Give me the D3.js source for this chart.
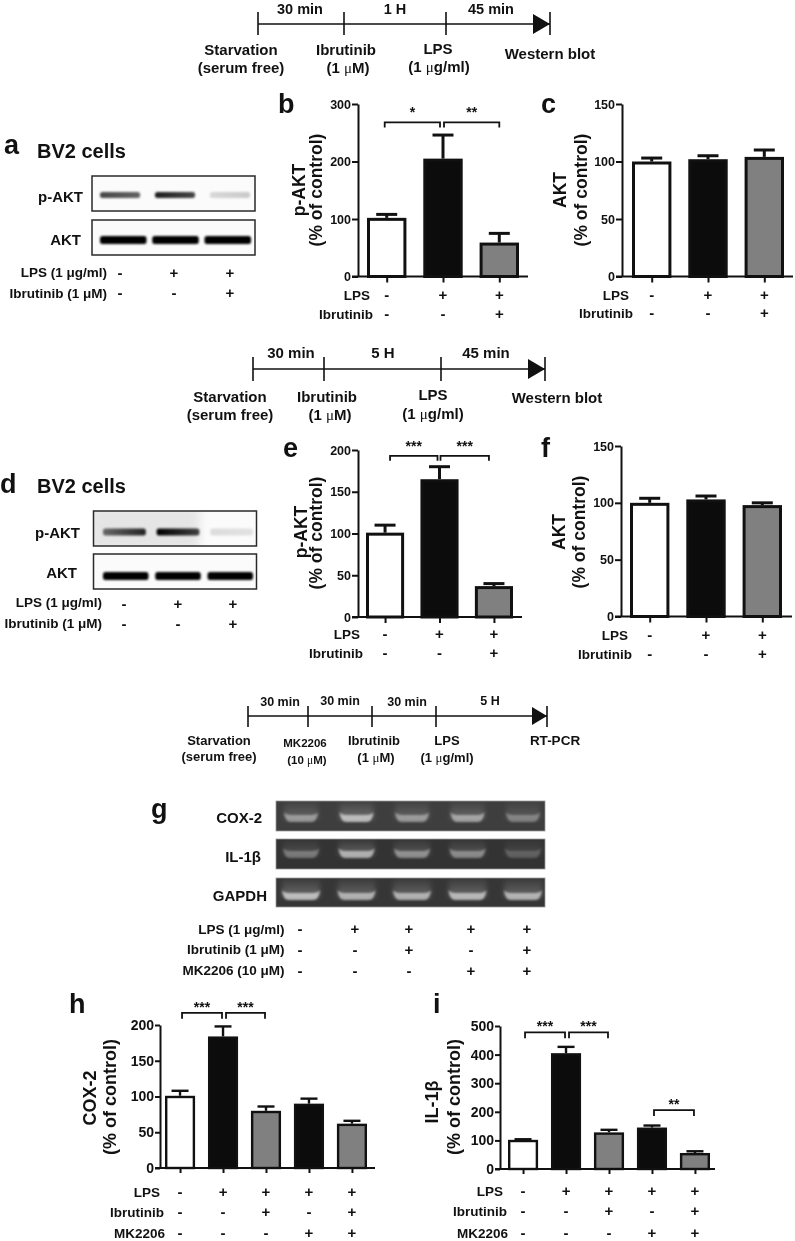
<!DOCTYPE html>
<html>
<head>
<meta charset="utf-8">
<script src="https://cdn.jsdelivr.net/npm/d3@7"></script>
<style>
html,body{margin:0;padding:0;background:#fff}
svg{display:block;filter:blur(0.35px)}
text{font-family:"Liberation Sans",Arial,sans-serif;font-weight:700;fill:#111}
</style>
</head>
<body>
<svg id="fig" width="795" height="1241"></svg>
<script>
// ---- data ----
const cats3 = ["Control","LPS","LPS+Ibrutinib"];
const cats5 = ["Control","LPS","LPS+Ibrutinib","LPS+MK2206","LPS+Ibrutinib+MK2206"];
const fills3 = ["#ffffff","#0c0c0c","#808080"];
const fills5 = ["#ffffff","#0c0c0c","#808080","#0c0c0c","#808080"];

const bValues = [102,205,59];   const bErrors = [6,41,16];
const cValues = [100,102,104];  const cErrors = [3,3,6];
const eValues = [101,165,37];   const eErrors = [9,15,3];
const fValues = [100,103,98];   const fErrors = [4,3,2];
const hValues = [101,184,80,90,62];     const hErrors = [7,14,6,7,4];
const iValues = [102,405,128,145,56];   const iErrors = [2,22,9,7,6];

const bTicks = [0,100,200,300];
const cTicks = [0,50,100,150];
const eTicks = [0,50,100,150,200];
const fTicks = [0,50,100,150];
const hTicks = [0,50,100,150,200];
const iTicks = [0,100,200,300,400,500];

const lps3 = ["-","+","+"];
const ibr3 = ["-","-","+"];
const lps5 = ["-","+","+","+","+"];
const ibr5 = ["-","-","+","-","+"];
const mk5  = ["-","-","-","+","+"];

// western blot band strengths (left end, right end of each lane)
const aPhospho = [[.72,.6],[.88,.72],[.14,.2]];
const aTotal   = [[1,1],[1,1],[1,1]];
const dPhospho = [[.55,.85],[1,.72],[.12,.1]];
const dTotal   = [[1,1],[1,1],[1,1]];
// gel band brightness per lane
const cox2Gel  = [.6,.95,.6,.7,.38];
const il1bGel  = [.35,.85,.55,.5,.14];
const gapdhGel = [.98,.85,.85,.92,.88];

// ---- helpers ----
const svg = d3.select("#fig");
const INK = "#111";

function txt(g,x,y,s,size,anchor,weight){
  const t = g.append("text").attr("x",x).attr("y",y).attr("font-size",size).attr("text-anchor",anchor||"start");
  const parts = String(s).split(/(μ)/);
  if(parts.length>1 && weight==="sym"){
    parts.forEach(p=>{ const ts=t.append("tspan").text(p); if(p==="μ") ts.style("font-weight",400).style("font-family","'Liberation Serif',serif"); });
  } else t.text(s);
  return t;
}
function rowCentered(g,x,cy,s,size,anchor){ return txt(g,x,cy+0.36*size,s,size,anchor); }
function sign(g,x,cy,s){ return txt(g,x,cy+5,s,15,"middle"); }
function letter(x,y,s){ txt(svg,x,y,s,27); }

function timeline(o){
  const g = svg.append("g");
  const ts = o.ticks;
  g.append("line").attr("x1",ts[0]).attr("x2",ts[ts.length-1]).attr("y1",o.y).attr("y2",o.y).attr("stroke",INK).attr("stroke-width",1.6);
  g.selectAll("line.t").data(ts).join("line").attr("class","t")
    .attr("x1",d=>d).attr("x2",d=>d).attr("y1",o.y-o.h0).attr("y2",o.y+o.h1).attr("stroke",INK).attr("stroke-width",1.6);
  const e = ts[ts.length-1];
  const p = d3.path(); p.moveTo(e,o.y); p.lineTo(e-o.aw,o.y-o.ah); p.lineTo(e-o.aw,o.y+o.ah); p.closePath();
  g.append("path").attr("d",p.toString()).attr("fill",INK);
  o.labels.forEach(l=>{ txt(g,l[0],l[1],l[2],l[3]||o.size,"middle","sym"); });
}

function barPanel(o){
  const g = svg.append("g");
  const y = d3.scaleLinear().domain([0,d3.max(o.ticks)]).range([o.y0,o.y1]);
  const x = d3.scaleBand().domain(o.cats).range([o.xL,o.xR]).paddingInner(0.3).paddingOuter(0);
  const sw = o.sw;
  g.selectAll("rect").data(o.cats).join("rect")
    .attr("x",d=>x(d)+sw/2).attr("width",x.bandwidth()-sw)
    .attr("y",(d,i)=>y(o.values[i])+sw/2).attr("height",(d,i)=>o.y0-y(o.values[i])-sw/2)
    .attr("fill",(d,i)=>o.fills[i]).attr("stroke",INK).attr("stroke-width",sw);
  const cx = d=>x(d)+x.bandwidth()/2;
  g.selectAll("line.err").data(o.cats).join("line").attr("class","err")
    .attr("x1",cx).attr("x2",cx).attr("y1",(d,i)=>y(o.values[i])).attr("y2",(d,i)=>y(o.values[i]+o.errors[i]))
    .attr("stroke",INK).attr("stroke-width",o.ew);
  g.selectAll("line.cap").data(o.cats).join("line").attr("class","cap")
    .attr("x1",d=>cx(d)-o.cap/2).attr("x2",d=>cx(d)+o.cap/2)
    .attr("y1",(d,i)=>y(o.values[i]+o.errors[i])).attr("y2",(d,i)=>y(o.values[i]+o.errors[i]))
    .attr("stroke",INK).attr("stroke-width",o.ew);

  const ax = g.append("g").attr("transform",`translate(${o.ax},0)`)
    .call(d3.axisLeft(y).tickValues(o.ticks).tickSize(o.tick).tickSizeOuter(0).tickPadding(1));
  ax.select(".domain").attr("stroke",INK).attr("stroke-width",2);
  ax.selectAll(".tick line").attr("stroke",INK).attr("stroke-width",2);
  ax.selectAll(".tick text").attr("font-size",o.tickFont).attr("font-family",null).style("fill",INK);

  const bx = g.append("g").attr("transform",`translate(0,${o.y0})`)
    .call(d3.axisBottom(d3.scalePoint().domain(o.cats).range([cx(o.cats[0]),cx(o.cats[o.cats.length-1])])).tickSize(o.tick).tickFormat(""));
  bx.select(".domain").remove();
  bx.selectAll(".tick line").attr("stroke",INK).attr("stroke-width",2);
  bx.append("line").attr("x1",o.ax-o.tick).attr("x2",o.xEnd).attr("stroke",INK).attr("stroke-width",2);

  o.rows.forEach(r=>{
    rowCentered(g,r.right,r.y,r.name,13.5,"end");
    r.signs.forEach((s,i)=>sign(g,cx(o.cats[i]),r.y,s));
  });
  (o.brackets||[]).forEach(b=>{
    const x0 = cx(o.cats[b[0]])+b[3], x1 = cx(o.cats[b[1]])+b[4];
    const top = y(b[2]);
    g.append("path").attr("d",`M${x0},${top+o.bd}V${top}H${x1}V${top+o.bd}`).attr("fill","none").attr("stroke",INK).attr("stroke-width",1.8);
    txt(g,(x0+x1)/2,top-o.starUp+6,b[5],o.starSize||14,"middle");
  });
  const rot = (bx0,cy,s,size)=>{
    g.append("text").attr("transform",`translate(${bx0},${cy}) rotate(-90)`).attr("text-anchor","middle").attr("font-size",size).text(s);
  };
  rot(o.title[0],o.title[1],o.title[2],o.titleSize);
  rot(o.sub[0],o.sub[1],"(% of control)",o.titleSize);
}

const defs = svg.append("defs");
[["wb",1.2],["gel",1.2],["gelWide",2.4],["smudge",5]].forEach(f=>{
  defs.append("filter").attr("id",f[0]).attr("x","-30%").attr("y","-100%").attr("width","160%").attr("height","300%")
    .append("feGaussianBlur").attr("stdDeviation",f[1]);
});
const lg = defs.append("linearGradient").attr("id","laneGlow").attr("x1",0).attr("x2",0).attr("y1",0).attr("y2",1);
lg.append("stop").attr("offset","0%").attr("stop-color","#fff").attr("stop-opacity",0.03);
lg.append("stop").attr("offset","100%").attr("stop-color","#fff").attr("stop-opacity",0.38);

let clipId = 0;
function blotBox(x0,x1,y0,y1,strength,bandH,bandY,laneRange,inner,smudge){
  const g = svg.append("g");
  const id = "c"+(clipId++);
  defs.append("clipPath").attr("id",id).append("rect").attr("x",x0).attr("y",y0).attr("width",x1-x0).attr("height",y1-y0);
  g.append("rect").attr("x",x0).attr("y",y0).attr("width",x1-x0).attr("height",y1-y0).attr("fill","#fbfbfb");
  const inside = g.append("g").attr("clip-path",`url(#${id})`);
  if(smudge){
    inside.append("rect").attr("x",x0-5).attr("y",y0-5).attr("width",(x1-x0)*0.68).attr("height",y1-y0+10)
      .attr("fill","#dcdcdc").attr("opacity",.7).attr("filter","url(#smudge)");
  }
  const lx = d3.scaleBand().domain(d3.range(strength.length)).range(laneRange).paddingInner(inner).paddingOuter(0);
  strength.forEach((lane,i)=>{
    const gid = "b"+id+"_"+i;
    const gr = defs.append("linearGradient").attr("id",gid);
    gr.append("stop").attr("offset","0%").attr("stop-color","#000").attr("stop-opacity",lane[0]);
    gr.append("stop").attr("offset","100%").attr("stop-color","#000").attr("stop-opacity",lane[1]);
    inside.append("rect").attr("x",lx(i)).attr("width",lx.bandwidth())
      .attr("y",bandY-bandH/2).attr("height",bandH).attr("rx",2.5)
      .attr("fill",`url(#${gid})`).attr("filter","url(#wb)");
  });
  g.append("rect").attr("x",x0).attr("y",y0).attr("width",x1-x0).attr("height",y1-y0)
    .attr("fill","none").attr("stroke","#2a2a2a").attr("stroke-width",1.5);
}

function gel(y0,y1,bg,strength,bandY,bandW){
  const x0=276,x1=545;
  const g = svg.append("g");
  const id = "c"+(clipId++);
  defs.append("clipPath").attr("id",id).append("rect").attr("x",x0).attr("y",y0).attr("width",x1-x0).attr("height",y1-y0);
  g.append("rect").attr("x",x0).attr("y",y0).attr("width",x1-x0).attr("height",y1-y0).attr("fill",bg).attr("stroke","#9a9a9a").attr("stroke-width",0.8);
  const inside = g.append("g").attr("clip-path",`url(#${id})`);
  const lx = d3.scaleBand().domain(d3.range(strength.length)).range([283,541]).paddingInner(0.35).paddingOuter(0);
  strength.forEach((v,i)=>{
    const cx = lx(i)+lx.bandwidth()/2, w = bandW;
    inside.append("rect").attr("x",cx-w/2).attr("width",w).attr("y",y0).attr("height",bandY-y0)
      .attr("fill","url(#laneGlow)").attr("opacity",0.2+0.5*v).attr("filter","url(#gelWide)");
    const p = d3.path(), l=cx-w/2, r=cx+w/2, t=bandY-4, b=bandY+3;
    p.moveTo(l,t-3); p.quadraticCurveTo(l+1,b,l+7,b); p.lineTo(r-7,b); p.quadraticCurveTo(r-1,b,r,t-3);
    p.quadraticCurveTo(r-2,t,r-7,t); p.lineTo(l+7,t); p.quadraticCurveTo(l+2,t,l,t-3); p.closePath();
    inside.append("path").attr("d",p.toString()).attr("fill","#e4e4e4").attr("opacity",0.12+0.62*v).attr("filter","url(#gel)");
  });
}

// ---- panel letters ----
[[4,154,"a"],[278,113,"b"],[541,113,"c"],[0,493,"d"],[283,457,"e"],[541,457,"f"],[151,818,"g"],[69,1013,"h"],[433,1013,"i"]]
  .forEach(d=>letter(d[0],d[1],d[2]));

// ---- timelines ----
timeline({y:24,ticks:[258,344,446,550],h0:12,h1:11,aw:17,ah:10,size:15,labels:[
  [300,13.5,"30 min",14.5],[395,13.5,"1 H",14.5],[491,13.5,"45 min",14.5],
  [241,55,"Starvation"],[241,73,"(serum free)"],[346,55,"Ibrutinib"],[348,73,"(1 μM)"],
  [438,54,"LPS"],[439,72,"(1 μg/ml)"],[550,59,"Western blot"]]});
timeline({y:369,ticks:[253,324,441,545],h0:12,h1:12,aw:17,ah:10,size:15,labels:[
  [291,358,"30 min"],[383,358,"5 H"],[486,358,"45 min"],
  [230,402,"Starvation"],[230,420,"(serum free)"],[327,402,"Ibrutinib"],[330,420,"(1 μM)"],
  [433,400,"LPS"],[433,419,"(1 μg/ml)"],[557,403,"Western blot"]]});
timeline({y:716,ticks:[248,308,372,436,547],h0:10,h1:11,aw:15,ah:9,size:12.5,labels:[
  [280,706,"30 min"],[340,705,"30 min"],[407,706,"30 min"],[490,705,"5 H"],
  [219,745,"Starvation",13],[219,761,"(serum free)",13],[305,747,"MK2206",11.5],[307,764,"(10 μM)",11.5],
  [374,745,"Ibrutinib",13],[376,762,"(1 μM)",13],[447,745,"LPS",13],[447,762,"(1 μg/ml)",13],[555,745,"RT-PCR",13.5]]});

// ---- panel a ----
txt(svg,37,158,"BV2 cells",20);
blotBox(92,255,176,211,aPhospho,6,195,[100,250],0.27,false);
blotBox(92,255,220,255,aTotal,8,240,[100,251],0.11,false);
txt(svg,83,202,"p-AKT",15,"end");
txt(svg,81,245,"AKT",15,"end");
rowCentered(svg,107,272,"LPS (1 μg/ml)",13.5,"end");
rowCentered(svg,107,293,"Ibrutinib (1 μM)",13.5,"end");
[120,174,230].forEach((x,i)=>{ sign(svg,x,273,lps3[i]); sign(svg,x,293,ibr3[i]); });

// ---- panel d ----
txt(svg,37,493,"BV2 cells",20);
blotBox(93.5,256.5,511,546,dPhospho,7,532,[103,253],0.2,true);
blotBox(93.5,256.5,554,589,dTotal,8,576,[103,253],0.13,false);
txt(svg,80,538,"p-AKT",15,"end");
txt(svg,77,578,"AKT",15,"end");
rowCentered(svg,102,602,"LPS (1 μg/ml)",13.5,"end");
rowCentered(svg,102,623,"Ibrutinib (1 μM)",13.5,"end");
[124,178,233].forEach((x,i)=>{ sign(svg,x,604,lps3[i]); sign(svg,x,624,ibr3[i]); });

// ---- panel g ----
gel(801,831,"#3e3e3e",cox2Gel,819,34);
gel(839,869,"#333333",il1bGel,855,36);
gel(878,907,"#363636",gapdhGel,897,38);
txt(svg,262,823,"COX-2",15,"end");
txt(svg,261,862,"IL-1β",15,"end");
txt(svg,267,901,"GAPDH",15,"end");
rowCentered(svg,284.5,929,"LPS (1 μg/ml)",13.5,"end");
rowCentered(svg,284.5,949,"Ibrutinib (1 μM)",13.5,"end");
rowCentered(svg,284.5,970,"MK2206 (10 μM)",13.5,"end");
[300,355,409,471,527].forEach((x,i)=>{ sign(svg,x,929,lps5[i]); sign(svg,x,950,ibr5[i]); sign(svg,x,971,mk5[i]); });

// ---- bar panels ----
const big = {sw:3,ew:3,cap:21,tick:6,bd:5};
barPanel({...big,cats:cats3,fills:fills3,values:bValues,errors:bErrors,ticks:bTicks,y0:276.5,y1:104,xL:367,xR:519,ax:358,xEnd:528,tickFont:12.5,
  title:[305,190,"p-AKT"],sub:[322,190],titleSize:17.5,starUp:11,
  rows:[{name:"LPS",right:370,y:295,signs:lps3},{name:"Ibrutinib",right:373,y:314,signs:ibr3}],
  brackets:[[0,1,268,-2,-3,"*"],[1,2,268,1,0,"**"]]});
barPanel({...big,cats:cats3,fills:fills3,values:cValues,errors:cErrors,ticks:cTicks,y0:276.5,y1:104,xL:632,xR:784,ax:622,xEnd:793,tickFont:12.5,
  title:[566,190,"AKT"],sub:[587,190],titleSize:17.5,
  rows:[{name:"LPS",right:629,y:295,signs:lps3},{name:"Ibrutinib",right:633,y:313,signs:ibr3}]});
barPanel({...big,cats:cats3,fills:fills3,values:eValues,errors:eErrors,ticks:eTicks,y0:617,y1:450,xL:366,xR:513,ax:358,xEnd:522,tickFont:12.5,
  title:[307,532,"p-AKT"],sub:[322,533],titleSize:17.5,starUp:11,
  rows:[{name:"LPS",right:360,y:634,signs:lps3},{name:"Ibrutinib",right:363,y:653,signs:ibr3}],
  brackets:[[0,1,193,5,-2,"***"],[1,2,193,1,-5,"***"]]});
barPanel({...big,cats:cats3,fills:fills3,values:fValues,errors:fErrors,ticks:fTicks,y0:616.5,y1:446,xL:630,xR:782,ax:621,xEnd:792,tickFont:12.5,
  title:[565,532,"AKT"],sub:[585,532],titleSize:17.5,
  rows:[{name:"LPS",right:628,y:635,signs:lps3},{name:"Ibrutinib",right:632,y:654,signs:ibr3}]});

const small = {sw:2.4,ew:2.4,cap:17,tick:5,bd:6};
barPanel({...small,cats:cats5,fills:fills5,values:hValues,errors:hErrors,ticks:hTicks,y0:1168,y1:1025,xL:165,xR:367,ax:160,xEnd:375,tickFont:14,
  title:[96,1098,"COX-2"],sub:[116,1097],titleSize:18,starUp:7,
  rows:[{name:"LPS",right:160,y:1192,signs:lps5},{name:"Ibrutinib",right:164,y:1212,signs:ibr5},{name:"MK2206",right:165,y:1233,signs:mk5}],
  brackets:[[0,1,217,2,-1,"***"],[1,2,217,3,-1,"***"]]});
barPanel({...small,cats:cats5,fills:fills5,values:iValues,errors:iErrors,ticks:iTicks,y0:1169,y1:1026,xL:508,xR:710,ax:500,xEnd:715,tickFont:14,
  title:[438,1102,"IL-1β"],sub:[460,1097],titleSize:18,starUp:7,
  rows:[{name:"LPS",right:503,y:1191,signs:lps5},{name:"Ibrutinib",right:507,y:1211,signs:ibr5},{name:"MK2206",right:508,y:1233,signs:mk5}],
  brackets:[[0,1,478,2,-1,"***"],[1,2,478,3,-1,"***"],[3,4,206,2,-1,"**"]]});
</script>
</body>
</html>
